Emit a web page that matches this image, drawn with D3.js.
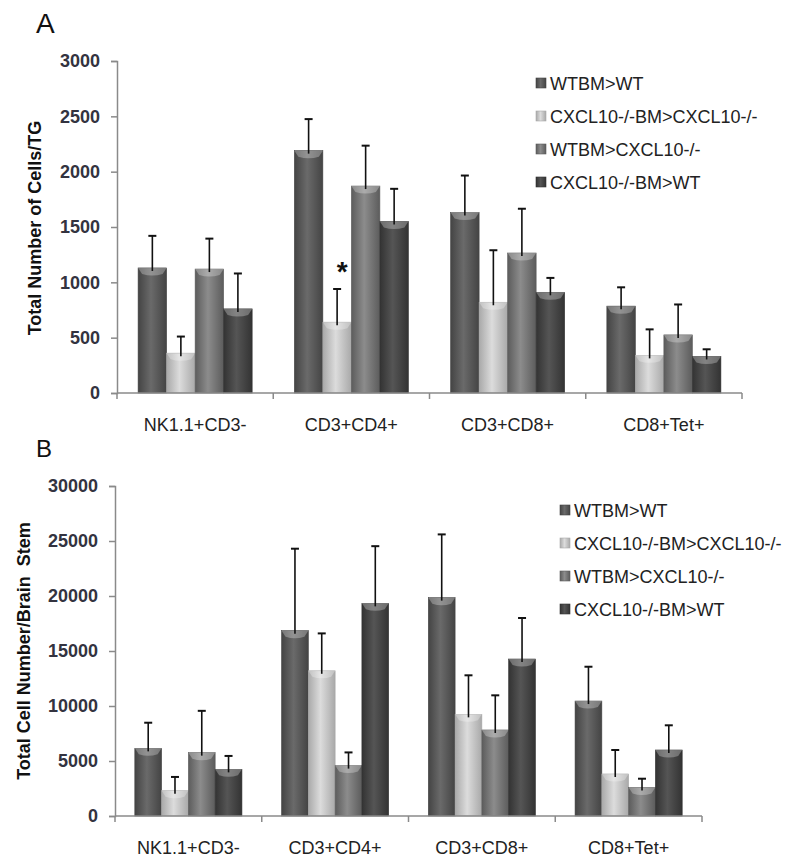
<!DOCTYPE html>
<html>
<head>
<meta charset="utf-8">
<script src="https://cdn.jsdelivr.net/npm/d3@7"></script>
<style>
  body { margin: 0; background: #fff; }
  svg { display: block; font-family: "Liberation Sans", Arial, sans-serif; }
</style>
</head>
<body>
<svg id="chart" width="800" height="864"></svg>
<script>
var categories = ['NK1.1+CD3-', 'CD3+CD4+', 'CD3+CD8+', 'CD8+Tet+'];
var seriesNames = ['WTBM>WT', 'CXCL10-/-BM>CXCL10-/-', 'WTBM>CXCL10-/-', 'CXCL10-/-BM>WT'];

// panel A: cells per TG, one row per series, one value per category
var tgMeans = [
  [1130, 2190, 1630, 785],
  [360, 640, 820, 340],
  [1120, 1870, 1265, 525],
  [760, 1550, 910, 330]
];
var tgErrors = [
  [290, 285, 335, 170],
  [150, 300, 470, 235],
  [275, 365, 400, 275],
  [320, 295, 130, 65]
];
var tgTicks = [0, 500, 1000, 1500, 2000, 2500, 3000];

// panel B: cells per brain stem
var bsMeans = [
  [6150, 16850, 19850, 10450],
  [2300, 13200, 9240, 3820],
  [5760, 4580, 7820, 2600],
  [4240, 19330, 14270, 6000]
];
var bsErrors = [
  [2330, 7450, 5750, 3120],
  [1250, 3400, 3550, 2180],
  [3800, 1200, 3150, 790],
  [1220, 5200, 3730, 2245]
];
var bsTicks = [0, 5000, 10000, 15000, 20000, 25000, 30000];

// fills: [edge, centre] of each series' horizontal shading
var shades = [['#444444', '#6a6a6a'], ['#a9a9a9', '#dcdcdc'], ['#5c5c5c', '#8c8c8c'], ['#333333', '#555555']];

var svg = d3.select('#chart');
var defs = svg.append('defs');

shades.forEach(function(s, i) {
  var g = defs.append('linearGradient').attr('id', 'bar' + i)
    .attr('x1', '0%').attr('x2', '100%').attr('y1', '0%').attr('y2', '0%');
  g.append('stop').attr('offset', '0%').attr('stop-color', s[0]);
  g.append('stop').attr('offset', '45%').attr('stop-color', s[1]);
  g.append('stop').attr('offset', '100%').attr('stop-color', s[0]);
});

function drawPanel(opt) {
  var x = d3.scaleBand().domain(categories).range([opt.left, opt.right]).padding(0);
  var xs = d3.scaleBand().domain(d3.range(seriesNames.length))
    .range([0, x.bandwidth()]).paddingInner(0).paddingOuter(0.74);
  var y = d3.scaleLinear().domain([0, opt.max]).range([opt.bottom, opt.top]);

  var g = svg.append('g');

  // panel letter
  g.append('text').attr('x', 36).attr('y', opt.letterY)
    .attr('font-size', opt.letterSize).attr('fill', '#111').text(opt.letter);

  // y axis
  var ya = g.append('g').attr('transform', 'translate(' + opt.left + ',0)')
    .call(d3.axisLeft(y).tickValues(opt.ticks).tickSize(6).tickPadding(11).tickFormat(d3.format('d')));
  ya.select('.domain').attr('stroke', '#8a8a8a').attr('stroke-width', 1.5);
  ya.selectAll('.tick line').attr('stroke', '#8a8a8a').attr('stroke-width', 1.5);
  ya.selectAll('.tick text').attr('font-size', 18).attr('font-weight', 'bold')
    .attr('fill', '#333340').attr('font-family', '"Liberation Sans", Arial, sans-serif');

  // y title
  g.append('text')
    .attr('transform', 'translate(' + opt.titleX + ',' + ((opt.top + opt.bottom) / 2 + opt.titleShift) + ') rotate(-90)')
    .attr('text-anchor', 'middle').attr('font-size', 18).attr('font-weight', 'bold')
    .attr('fill', '#111').attr('xml:space', 'preserve').text(opt.title);

  // bars
  seriesNames.forEach(function(name, si) {
    var bars = g.append('g').selectAll('g').data(categories).enter().append('g')
      .attr('transform', function(c) { return 'translate(' + (x(c) + xs(si)) + ',0)'; });
    var w = xs.bandwidth();
    bars.append('rect')
      .attr('x', 0).attr('width', w)
      .attr('y', function(c, ci) { return y(opt.means[si][ci]); })
      .attr('height', function(c, ci) { return opt.bottom - y(opt.means[si][ci]); })
      .attr('fill', 'url(#bar' + si + ')')
      .attr('stroke', shades[si][0]).attr('stroke-width', 0.6);
    // bevelled top
    bars.append('path')
      .attr('d', function(c, ci) {
        var t = y(opt.means[si][ci]);
        return 'M0,' + t + 'H' + w + 'L' + (w - 4) + ',' + (t + 6) +
          'Q' + (w / 2) + ',' + (t + 9) + ' 4,' + (t + 6) + 'Z';
      })
      .attr('fill', '#ffffff').attr('fill-opacity', 0.28);
    // upper error bars
    bars.append('line')
      .attr('x1', w / 2).attr('x2', w / 2)
      .attr('y1', function(c, ci) { return y(opt.means[si][ci]) + 3; })
      .attr('y2', function(c, ci) { return y(opt.means[si][ci] + opt.errors[si][ci]); })
      .attr('stroke', '#111').attr('stroke-width', 1.6);
    bars.append('line')
      .attr('x1', w / 2 - 4).attr('x2', w / 2 + 4)
      .attr('y1', function(c, ci) { return y(opt.means[si][ci] + opt.errors[si][ci]); })
      .attr('y2', function(c, ci) { return y(opt.means[si][ci] + opt.errors[si][ci]); })
      .attr('stroke', '#111').attr('stroke-width', 2);
  });

  // x axis with ticks between categories
  var bounds = categories.map(function(c) { return x(c); }).concat([opt.right]);
  g.append('line').attr('x1', opt.left).attr('x2', opt.right)
    .attr('y1', opt.bottom).attr('y2', opt.bottom)
    .attr('stroke', '#8a8a8a').attr('stroke-width', 1.5);
  g.selectAll('.xtick').data(bounds).enter().append('line')
    .attr('x1', function(d) { return d; }).attr('x2', function(d) { return d; })
    .attr('y1', opt.bottom).attr('y2', opt.bottom + 6)
    .attr('stroke', '#8a8a8a').attr('stroke-width', 1.5);
  g.selectAll('.xlab').data(categories).enter().append('text')
    .attr('x', function(c) { return x(c) + x.bandwidth() / 2; })
    .attr('y', opt.bottom + 38)
    .attr('text-anchor', 'middle').attr('font-size', 18).attr('fill', '#222')
    .text(function(c) { return c; });

  // significance mark
  if (opt.star) {
    var si = opt.star[1], ci = categories.indexOf(opt.star[0]);
    g.append('text')
      .attr('x', x(opt.star[0]) + xs(si) + xs.bandwidth() / 2 + 5)
      .attr('y', y(opt.means[si][ci] + opt.errors[si][ci]) - 8)
      .attr('text-anchor', 'middle').attr('font-size', 28).attr('font-weight', 'bold')
      .attr('fill', '#111').text('*');
  }

  // legend
  var lg = g.append('g').attr('transform', 'translate(' + opt.legendX + ',' + opt.legendY + ')');
  var items = lg.selectAll('g').data(seriesNames).enter().append('g')
    .attr('transform', function(d, i) { return 'translate(0,' + (i * 33) + ')'; });
  items.append('rect').attr('x', 0).attr('y', -5).attr('width', 10).attr('height', 10)
    .attr('fill', function(d, i) { return 'url(#bar' + i + ')'; })
    .attr('stroke', function(d, i) { return shades[i][0]; }).attr('stroke-width', 0.6);
  items.append('text').attr('x', 14).attr('y', 6.5).attr('font-size', 18).attr('fill', '#222')
    .text(function(d) { return d; });
}

drawPanel({
  letter: 'A', letterY: 33, letterSize: 28,
  left: 117, right: 742, top: 61, bottom: 393, max: 3000, ticks: tgTicks,
  means: tgMeans, errors: tgErrors,
  title: 'Total Number of Cells/TG', titleX: 41, titleShift: 1,
  legendX: 536, legendY: 83,
  star: ['CD3+CD4+', 1]
});

drawPanel({
  letter: 'B', letterY: 457, letterSize: 24,
  left: 115, right: 702, top: 486, bottom: 816, max: 30000, ticks: bsTicks,
  means: bsMeans, errors: bsErrors,
  title: 'Total Cell Number/Brain  Stem', titleX: 30, titleShift: 0,
  legendX: 560, legendY: 510,
  star: null
});
</script>
</body>
</html>
